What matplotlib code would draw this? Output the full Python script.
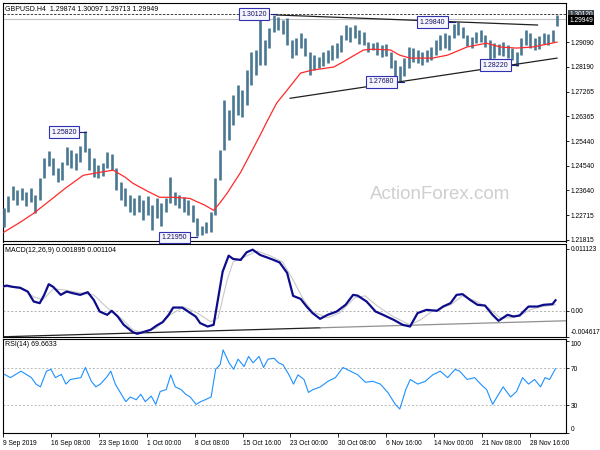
import numpy as np
import matplotlib
matplotlib.use("Agg")
import matplotlib.pyplot as plt
import matplotlib.transforms as mtransforms

plt.rcParams['font.family'] = ['Liberation Sans', 'DejaVu Sans']

# ---------------- texts ----------------
symbol_title = "GBPUSD.H4  1.29874 1.30097 1.29713 1.29949"
macd_title = "MACD(12,26,9) 0.001895 0.001104"
rsi_title = "RSI(14) 69.6633"
watermark = "ActionForex.com"

# ---------------- axis ticks ----------------
time_tick_bars = [0, 32, 64, 96, 128, 160, 192, 224, 256, 288, 320, 352]
time_tick_labels = ["9 Sep 2019", "16 Sep 08:00", "23 Sep 16:00", "1 Oct 00:00",
                    "8 Oct 08:00", "15 Oct 16:00", "23 Oct 00:00", "30 Oct 08:00",
                    "6 Nov 16:00", "14 Nov 00:00", "21 Nov 08:00", "28 Nov 16:00"]
price_ticks = [1.29090, 1.28190, 1.27265, 1.26365, 1.25440, 1.24540, 1.23640, 1.22715, 1.21815]
macd_ticks = [0.011123, 0.0, -0.004617]
macd_tick_labels = ["0.011123", "0.00", "-0.004617"]
rsi_ticks = [100, 70, 30, 0]

# ---------------- price bars (each entry spans 3 H4 bars) ----------------
bars_per_entry = 3
highs = [1.2297, 1.2342, 1.2379, 1.2364, 1.2371, 1.2356, 1.2371, 1.2345, 1.2408, 1.2482,
         1.2508, 1.2482, 1.2445, 1.2467, 1.2523, 1.2512, 1.2500, 1.2526, 1.2582, 1.2519,
         1.2482, 1.2456, 1.2464, 1.2504, 1.2497, 1.2445, 1.2393, 1.2371, 1.2345, 1.2334,
         1.2345, 1.2327, 1.2342, 1.2309, 1.2334, 1.2316, 1.2334, 1.2412, 1.2356, 1.2345,
         1.2338, 1.2327, 1.2309, 1.2261, 1.2231, 1.2246, 1.2283, 1.2408, 1.2512, 1.2696,
         1.2659, 1.2714, 1.2751, 1.2733, 1.2807, 1.2873, 1.2881, 1.3012, 1.2917, 1.2962,
         1.3010, 1.3002, 1.2991, 1.2999, 1.2917, 1.2925, 1.2943, 1.2925, 1.2873, 1.2862,
         1.2855, 1.2873, 1.2881, 1.2899, 1.2906, 1.2936, 1.2973, 1.2965, 1.2973, 1.2954,
         1.2947, 1.2910, 1.2906, 1.2910, 1.2899, 1.2903, 1.2873, 1.2844, 1.2821, 1.2851,
         1.2892, 1.2888, 1.2881, 1.2873, 1.2881, 1.2892, 1.2917, 1.2936, 1.2943, 1.2936,
         1.2976, 1.2984, 1.2965, 1.2936, 1.2928, 1.2947, 1.2954, 1.2936, 1.2917, 1.2906,
         1.2903, 1.2910, 1.2899, 1.2888, 1.2873, 1.2925, 1.2954, 1.2943, 1.2925, 1.2932,
         1.2943, 1.2940, 1.2954, 1.3010]
lows = [1.2227, 1.2283, 1.2327, 1.2309, 1.2327, 1.2305, 1.2320, 1.2279, 1.2327, 1.2408,
        1.2452, 1.2419, 1.2393, 1.2401, 1.2456, 1.2445, 1.2438, 1.2467, 1.2504, 1.2438,
        1.2412, 1.2408, 1.2416, 1.2445, 1.2438, 1.2364, 1.2327, 1.2305, 1.2283, 1.2272,
        1.2283, 1.2253, 1.2272, 1.2216, 1.2261, 1.2231, 1.2283, 1.2316, 1.2309, 1.2297,
        1.2283, 1.2272, 1.2246, 1.2195, 1.2200, 1.2205, 1.2210, 1.2272, 1.2401, 1.2512,
        1.2548, 1.2604, 1.2641, 1.2633, 1.2678, 1.2751, 1.2788, 1.2825, 1.2825, 1.2888,
        1.2947, 1.2954, 1.2940, 1.2899, 1.2851, 1.2862, 1.2888, 1.2858, 1.2788, 1.2807,
        1.2814, 1.2821, 1.2833, 1.2844, 1.2851, 1.2873, 1.2917, 1.2910, 1.2925, 1.2903,
        1.2899, 1.2873, 1.2881, 1.2862, 1.2855, 1.2858, 1.2814, 1.2770, 1.2768, 1.2785,
        1.2814, 1.2836, 1.2833, 1.2825, 1.2836, 1.2844, 1.2862, 1.2881, 1.2888, 1.2881,
        1.2925, 1.2936, 1.2925, 1.2895, 1.2888, 1.2906, 1.2910, 1.2892, 1.2821, 1.2851,
        1.2862, 1.2858, 1.2851, 1.2844, 1.2822, 1.2862, 1.2899, 1.2888, 1.2881, 1.2884,
        1.2903, 1.2899, 1.2910, 1.2971]

# ---------------- moving average (red) ----------------
ma_bars = [1, 12, 21, 32, 42, 54, 65, 74, 82, 87, 97, 105, 114, 125, 135, 141, 145, 150,
           159, 165, 172, 177, 183, 190, 199, 207, 221, 227, 235, 241, 247, 259, 265, 272,
           287, 297, 310, 323, 332, 343, 354, 370]
ma_values = [1.2209, 1.2246, 1.2279, 1.2327, 1.2371, 1.2419, 1.2430, 1.2438, 1.2412, 1.2390,
             1.2360, 1.2338, 1.2338, 1.2334, 1.2309, 1.2290, 1.2316, 1.2353, 1.2430, 1.2493,
             1.2567, 1.2622, 1.2685, 1.2733, 1.2796, 1.2807, 1.2818, 1.2836, 1.2862, 1.2881,
             1.2884, 1.2881, 1.2862, 1.2851, 1.2851, 1.2862, 1.2892, 1.2906, 1.2892, 1.2888,
             1.2892, 1.2910]

# ---------------- MACD ----------------
macd_bars = [0, 3, 7, 12, 17, 21, 25, 28, 31, 34, 39, 41, 43, 47, 52, 57, 61, 65, 70, 73,
             77, 81, 87, 90, 94, 99, 103, 107, 111, 114, 120, 124, 129, 132, 137, 141, 144, 147, 151, 154,
             159, 163, 167, 172, 177, 181, 185, 190, 194, 199, 203, 207, 212, 217, 223, 229, 234, 237, 243, 249,
             254, 261, 267, 272, 277, 283, 290, 294, 299, 303, 307, 312, 317, 322, 327, 331, 337, 341, 345, 351,
             357, 361, 367, 369]
macd_values = [0.00436, 0.00454, 0.00431, 0.00413, 0.00346, 0.00167, 0.00138, 0.00287, 0.00479, 0.00431,
               0.00287, 0.00318, 0.00346, 0.00318, 0.00287, 0.00335, 0.00197, -0.00013, -0.00072, 0.0,
               -0.00102, -0.00251, -0.00382, -0.00413, -0.00382, -0.00341, -0.00264, -0.00203, -0.00072, 0.00059,
               0.00059, -0.00013, -0.00102, -0.00221, -0.00282, -0.00251, 0.00228, 0.00705, 0.00992, 0.00933,
               0.00915, 0.01053, 0.01100, 0.01005, 0.00956, 0.00915, 0.00870, 0.00682, 0.00269, 0.00215,
               0.00077, -0.00041, -0.00144, -0.00072, -0.00013, 0.00108, 0.00287, 0.00274, 0.00167, -0.00013,
               -0.00072, -0.00161, -0.00251, -0.00282, -0.00041, 0.00018, 0.0, 0.00077, 0.00138, 0.00287,
               0.00300, 0.00197, 0.00108, 0.00095, -0.00072, -0.00179, -0.00072, -0.00102, -0.00084, 0.00077,
               0.00077, 0.00108, 0.00120, 0.00190]
signal_bars = [0, 12, 21, 27, 34, 41, 52, 61, 70, 79, 87, 94, 103, 112, 121, 130, 139, 144, 150, 154,
               163, 170, 179, 187, 194, 201, 207, 217, 225, 235, 242, 250, 261, 272, 279, 287, 299, 307, 317, 325,
               332, 339, 345, 352, 359, 369]
signal_values = [0.00431, 0.00431, 0.00251, 0.00197, 0.00395, 0.00377, 0.00323, 0.00287, 0.00054, -0.00126,
                 -0.00341, -0.00395, -0.00305, -0.00072, 0.00072, -0.00036, -0.00197, -0.00126, 0.00556, 0.00879,
                 0.00987, 0.01076, 0.00987, 0.00879, 0.00556, 0.00197, -0.00018, -0.00126, -0.00036, 0.00233,
                 0.00269, 0.00090, -0.00108, -0.00251, -0.00161, 0.0, 0.00108, 0.00269, 0.00161, 0.00036,
                 -0.00126, -0.00126, -0.00090, 0.00018, 0.00072, 0.00110]

# ---------------- RSI ----------------
rsi_bars = [1, 5, 12, 19, 22, 25, 29, 32, 35, 39, 42, 45, 52, 55, 59, 62, 65, 69, 72, 75,
            79, 82, 85, 89, 92, 95, 99, 102, 105, 109, 112, 115, 119, 122, 125, 129, 132, 135, 139, 142,
            145, 147, 151, 154, 157, 161, 164, 167, 171, 174, 177, 181, 184, 187, 191, 194, 197, 201, 204, 207,
            212, 217, 222, 227, 232, 237, 242, 247, 252, 257, 262, 265, 269, 272, 277, 282, 287, 292, 297, 302,
            305, 310, 315, 319, 323, 327, 331, 334, 339, 343, 347, 351, 355, 359, 362, 365, 369]
rsi_values = [63.5, 60, 67, 60, 53, 50, 67, 69, 60, 63.5, 53, 58, 60, 71, 56, 50, 53, 60, 67, 53,
              42, 34, 39, 36, 42, 34, 40, 31, 45, 47, 63, 50, 47, 42, 39, 31, 34, 36, 39, 69,
              74, 90, 76, 69, 80, 72, 83, 76, 83, 71, 80, 81, 76, 74, 63, 53, 63, 58, 44, 47,
              50, 56, 60, 71, 67, 63, 55, 56, 53, 44, 31, 26, 47, 58, 53, 56, 63, 67, 60, 69,
              67, 58, 60, 53, 47, 31, 42, 50, 39, 45, 60, 53, 58, 50, 60, 58, 69.66]

# ---------------- chart objects ----------------
key_labels = ["1.30120", "1.25820", "1.21950", "1.27680", "1.29840", "1.28220"]
key_label_bars = [168, 41, 115, 253, 287, 329]
key_label_prices = [1.3013, 1.2578, 1.2190, 1.2764, 1.2984, 1.2825]
hline_level = 1.30120
bid_level = 1.29949
upper_trend_bars = [183, 357]
upper_trend_prices = [1.3010, 1.2973]
lower_trend_bars = [192, 370]
lower_trend_prices = [1.2703, 1.2851]
macd_trend_bars = [1, 212, 376]
macd_trend_values = [-0.00466, -0.00305, -0.00179]

# ---------------- layout ----------------
W, H = 600, 450
fig = plt.figure(figsize=(6, 4.5), dpi=100)
fig.patch.set_facecolor('white')


def rect(x0, y0, x1, y1):
    return [x0 / W, 1 - y1 / H, (x1 - x0) / W, (y1 - y0) / H]


ax1 = fig.add_axes(rect(3, 2.5, 566, 241.5))
ax2 = fig.add_axes(rect(3, 244, 566, 336.5))
ax3 = fig.add_axes(rect(3, 338.5, 566, 433))

xlim = (0.5, 376)
TICK_FS = 4.8
for ax in (ax1, ax2, ax3):
    ax.set_xlim(*xlim)
    ax.set_facecolor('white')
    for s in ax.spines.values():
        s.set_color('black')
        s.set_linewidth(0.8)
    ax.yaxis.tick_right()
    ax.tick_params(axis='y', labelsize=TICK_FS, length=2.5, width=0.6, pad=1.0, colors='black')
    ax.tick_params(axis='x', bottom=False, labelbottom=False)

# ---- main price panel ----
ax1.set_ylim(1.2175, 1.3056)
xs = np.arange(len(highs)) * bars_per_entry + 1
ax1.vlines(xs, lows, highs, color='#4a7893', lw=1.9, zorder=3)
ax1.plot(ma_bars, ma_values, color='#ff2a2a', lw=0.9, zorder=4)
ax1.axhline(bid_level, color='#c0c0c0', lw=0.8, zorder=1)
ax1.axhline(hline_level, color='#404040', lw=0.7, ls=(0, (2.5, 1.5)), zorder=2)
ax1.plot(upper_trend_bars, upper_trend_prices, color='#202020', lw=0.9, zorder=5)
ax1.plot(lower_trend_bars, lower_trend_prices, color='#202020', lw=0.9, zorder=5)
ax1.set_yticks(price_ticks)
ax1.set_yticklabels([f"{v:.5f}" for v in price_ticks])

for lab, b, p in zip(key_labels, key_label_bars, key_label_prices):
    ax1.text(b, p, lab, fontsize=5, color='#101060', ha='center', va='center', zorder=8,
             bbox=dict(boxstyle='square,pad=0.35', fc='#f6f6ff', ec='#3030b0', lw=0.8))
    ax1.plot([b + 11, b + 15], [p, p], color='#202080', lw=0.8, zorder=7)

blend1 = mtransforms.blended_transform_factory(ax1.transAxes, ax1.transData)
ax1.text(1.006, hline_level, "1.30120", transform=blend1, fontsize=4.8, color='white',
         ha='left', va='center', clip_on=False, zorder=10,
         bbox=dict(boxstyle='square,pad=0.2', fc='#404850', ec='none'))
ax1.text(1.006, bid_level - 0.0004, "1.29949", transform=blend1, fontsize=4.8, color='white',
         ha='left', va='center', clip_on=False, zorder=11,
         bbox=dict(boxstyle='square,pad=0.2', fc='black', ec='none'))

ax1.text(0.004, 0.985, symbol_title, transform=ax1.transAxes, fontsize=5,
         ha='left', va='top', color='black', zorder=12)
ax1.text(0.776, 0.197, watermark, transform=ax1.transAxes, fontsize=13.5,
         ha='center', va='center', color='#cfcfcf', zorder=0)

# ---- MACD panel ----
ax2.set_ylim(-0.004575, 0.01202)
ax2.axhline(0, color='#b0b0b0', lw=0.7, ls=(0, (2, 2)), zorder=1)
ax2.plot(macd_trend_bars[:2], macd_trend_values[:2], color='#202020', lw=0.9, zorder=2)
ax2.plot(macd_trend_bars[1:], macd_trend_values[1:], color='#909090', lw=0.9, zorder=2)
ax2.plot(signal_bars, signal_values, color='#c8c8c8', lw=0.8, zorder=3)
ax2.plot(macd_bars, macd_values, color='#0d0d8c', lw=1.6, zorder=4)
ax2.set_yticks(macd_ticks)
ax2.set_yticklabels(macd_tick_labels)
for t, v in zip(ax2.get_yticklabels(), macd_ticks):
    if v < 0:
        t.set_va('bottom')
ax2.text(0.004, 0.97, macd_title, transform=ax2.transAxes, fontsize=5,
         ha='left', va='top', color='black')

# ---- RSI panel ----
ax3.set_ylim(0, 102.4)
for lv in (70, 30):
    ax3.axhline(lv, color='#b8b8b8', lw=0.7, ls=(0, (2, 2)), zorder=1)
ax3.plot(rsi_bars, rsi_values, color='#1e90ff', lw=0.8, zorder=3)
ax3.set_yticks(rsi_ticks)
ax3.set_yticklabels([str(v) for v in rsi_ticks])
for t, v in zip(ax3.get_yticklabels(), rsi_ticks):
    if v == 0:
        t.set_va('bottom')
    if v == 100:
        t.set_va('top')
ax3.text(0.004, 0.97, rsi_title, transform=ax3.transAxes, fontsize=5,
         ha='left', va='top', color='black')

ax3.tick_params(axis='x', bottom=True, labelbottom=True, labelsize=TICK_FS,
                length=3, width=0.6, pad=2, direction='out')
ax3.set_xticks(time_tick_bars)
ax3.set_xticklabels(time_tick_labels)
for t in ax3.get_xticklabels():
    t.set_ha('left')

fig.savefig('out.png', dpi=100, facecolor='white')
